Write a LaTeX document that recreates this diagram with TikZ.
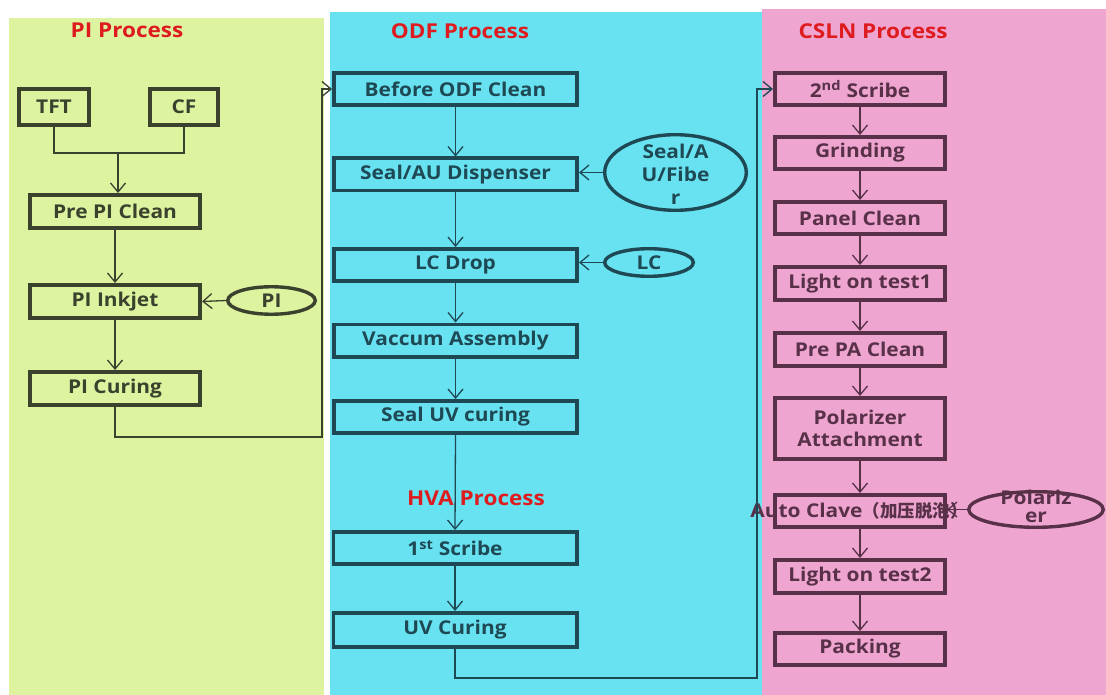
\documentclass[tikz,border=0pt]{standalone}
\usepackage{fontspec}
\setmainfont{Open Sans}[FakeStretch=1.1]
\newfontfamily\cjk{Noto Sans CJK SC}
\usetikzlibrary{arrows.meta,shapes.geometric}

\definecolor{pibg}{RGB}{221,243,160}
\definecolor{odfbg}{RGB}{104,226,240}
\definecolor{cslnbg}{RGB}{238,166,208}
\definecolor{pidark}{RGB}{58,66,46}
\definecolor{odfdark}{RGB}{30,72,84}
\definecolor{csdark}{RGB}{88,48,72}
\definecolor{titlered}{RGB}{222,28,32}

\begin{document}
\begin{tikzpicture}[x=1pt,y=-1pt,
  boxfont/.style={font=\bfseries\fontsize{19}{24}\selectfont},
  stepbox/.style={draw, rectangle, line width=3.6pt, inner sep=0pt,
    minimum height=32.4pt, align=center, boxfont},
  supply/.style={draw, ellipse, line width=3.4pt, inner sep=0pt},
  title/.style={text=titlered, font=\bfseries\fontsize{20.5}{24}\selectfont},
  link/.style={line width=1.3pt},
  arr/.style={link, -{Straight Barb[length=9pt,width=15pt,line width=1.3pt]}},
  pi/.style={draw=pidark, text=pidark},
  odf/.style={draw=odfdark, text=odfdark},
  cs/.style={draw=csdark, text=csdark}]

% page and the three process panels
\useasboundingbox (0,0) rectangle (1106,695);
\fill[white] (0,0) rectangle (1106,695);
\fill[pibg] (9,18) rectangle (324,695);
\fill[odfbg] (330,12) rectangle (762,695);
\fill[cslnbg] (762,9) rectangle (1106,695);

% panel titles
\node[title] (tpi) at (127,30) {PI Process};
\node[title] (todf) at (460,31) {ODF Process};
\node[title] (tcsln) at (873,31) {CSLN Process};

% ---------- PI process ----------
\node[stepbox,pi,minimum width=70.4pt,minimum height=36.4pt] (tft) at (54,107) {TFT};
\node[stepbox,pi,minimum width=68.4pt,minimum height=36.4pt] (cf) at (184,107) {CF};
\node[stepbox,pi,minimum width=170.4pt,minimum height=33.4pt] (prepi) at (115,211.5) {Pre PI Clean};
\node[stepbox,pi,minimum width=170.4pt,minimum height=33.4pt] (inkjet) at (115,301.5) {PI Inkjet};
\node[stepbox,pi,minimum width=170.4pt,minimum height=33.4pt] (picure) at (115,388.5) {PI Curing};
\node[supply,pi,minimum width=87.5pt,minimum height=27.5pt,
      label={[name=piink,text=pidark,boxfont]center:PI}] (piell) at (271.5,300.5) {};

\coordinate (join) at (118,153);
\draw[link,pidark] (tft.south) |- (join) -| (cf.south);
\draw[arr,pidark] (join) -- (join |- prepi.north);
\draw[arr,pidark] (prepi.south) -- (inkjet.north);
\draw[arr,pidark] (inkjet.south) -- (picure.north);
\draw[arr,pidark] (piell.west) -- (inkjet.east);

% ---------- ODF process ----------
\node[stepbox,odf,minimum width=243.4pt] (odfclean) at (455.5,89) {Before ODF Clean};
\node[stepbox,odf,minimum width=243.4pt] (dispense) at (455.5,174.5) {Seal/AU Dispenser};
\node[stepbox,odf,minimum width=243.4pt] (lcdrop) at (455.5,265) {LC Drop};
\node[stepbox,odf,minimum width=243.4pt] (vacuum) at (455.5,340.5) {Vaccum Assembly};
\node[stepbox,odf,minimum width=243.4pt] (sealuv) at (455.5,417) {Seal UV curing};
\node[supply,odf,minimum width=141.6pt,minimum height=75.6pt] (sealell) at (675.5,172.5) {};
\node[text=odfdark,boxfont,align=center,inner sep=0pt] (sealtxt) at (675.5,174)
  {Seal/A\\[-1pt]U/Fibe\\[-1pt]r};
\node[supply,odf,minimum width=88.6pt,minimum height=27.6pt,
      label={[name=lctxt,text=odfdark,boxfont]center:LC}] (lcell) at (649,262.5) {};

\draw[arr,odfdark] (odfclean.south) -- (dispense.north);
\draw[arr,odfdark] (dispense.south) -- (lcdrop.north);
\draw[arr,odfdark] (lcdrop.south) -- (vacuum.north);
\draw[arr,odfdark] (vacuum.south) -- (sealuv.north);
\draw[arr,odfdark] (sealell.west) -- (sealell.west -| dispense.east);
\draw[arr,odfdark] (lcell.west) -- (lcell.west -| lcdrop.east);

% PI curing feeds the ODF line
\coordinate (pibend) at (322,437);
\draw[arr,pidark] (picure.south) |- (pibend) |- (odfclean.west);

% ---------- HVA process ----------
\node[stepbox,odf,minimum width=243.4pt] (scribe1) at (455,548) {1\textsuperscript{st} Scribe};
\node[stepbox,odf,minimum width=243.4pt,minimum height=34.4pt] (uvcure) at (455,630) {UV Curing};
\draw[arr,odfdark] (sealuv.south) -- (scribe1.north);
\node[title] (thva) at (476,498) {HVA Process};
\draw[arr,odfdark] (scribe1.south) -- (uvcure.north);

% ---------- CSLN process ----------
\node[stepbox,cs,minimum width=170.4pt] (scribe2) at (860,89) {2\textsuperscript{nd} Scribe};
\node[stepbox,cs,minimum width=170.4pt] (grind) at (860,153) {Grinding};
\node[stepbox,cs,minimum width=170.4pt] (panel) at (860,218) {Panel Clean};
\node[stepbox,cs,minimum width=170.4pt,minimum height=33.4pt] (light1) at (860,283.5) {Light on test1};
\node[stepbox,cs,minimum width=170.4pt,minimum height=33.4pt] (prepa) at (860,349.5) {Pre PA Clean};
\node[stepbox,cs,minimum width=170.4pt,minimum height=61.4pt] (polatt) at (860,428.5) {Polarizer\\[-2pt]Attachment};
\node[stepbox,cs,minimum width=170.4pt,
      label={[name=clavetxt,text=csdark,boxfont,xshift=-1pt]center:Auto Clave{\cjk\fontsize{17.5}{21}\selectfont（加压脱泡）}}] (clave) at (860,511) {};
\node[stepbox,cs,minimum width=170.4pt,minimum height=33.4pt] (light2) at (860,576.5) {Light on test2};
\node[stepbox,cs,minimum width=170.4pt] (packing) at (860,649) {Packing};
\node[supply,cs,minimum width=134.6pt,minimum height=35.6pt] (polell) at (1036,509.5) {};
\node[text=csdark,boxfont,align=center,inner sep=0pt] (poltxt) at (1036,506)
  {Polariz\\[-6pt]er};

\draw[arr,csdark] (scribe2.south) -- (grind.north);
\draw[arr,csdark] (grind.south) -- (panel.north);
\draw[arr,csdark] (panel.south) -- (light1.north);
\draw[arr,csdark] (light1.south) -- (prepa.north);
\draw[arr,csdark] (prepa.south) -- (polatt.north);
\draw[arr,csdark] (polatt.south) -- (clave.north);
\draw[arr,csdark] (clave.south) -- (light2.north);
\draw[arr,csdark] (light2.south) -- (packing.north);
\draw[arr,csdark] (polell.west) -- (polell.west -| clave.east);

% UV curing feeds the CSLN line
\coordinate (hvabend) at (757,678);
\draw[arr,odfdark] (uvcure.south) |- (hvabend) |- (scribe2.west);

\end{tikzpicture}
\end{document}
